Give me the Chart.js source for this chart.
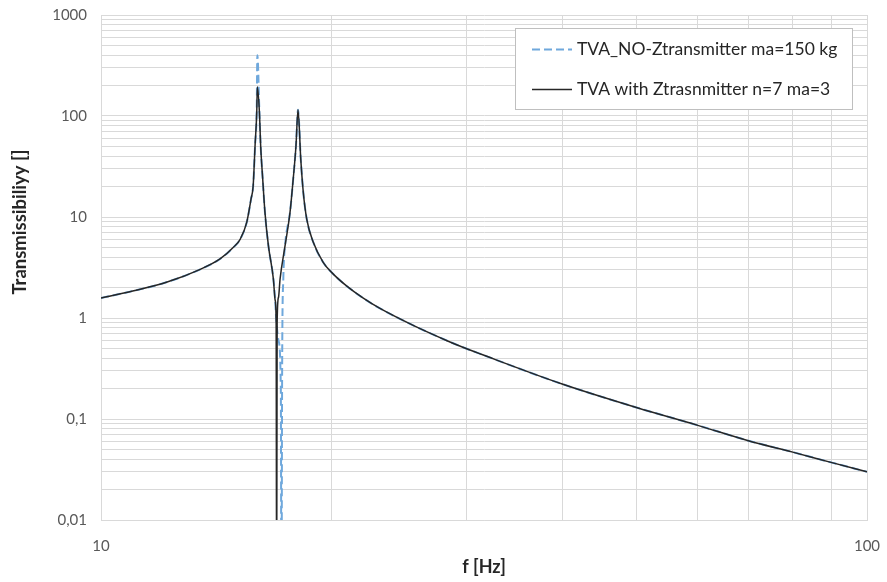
<!DOCTYPE html>
<html>
<head>
<meta charset="utf-8">
<script src="https://cdn.jsdelivr.net/npm/chart.js@4/dist/chart.umd.min.js"></script>
<style>
  html, body { margin: 0; padding: 0; background: #ffffff; }
  #wrap { position: relative; width: 887px; height: 582px; }
</style>
</head>
<body>
<div id="wrap"><canvas id="c" width="887" height="582"></canvas></div>
<script>
// ---- data ----
const seriesNames = ['TVA_NO-Ztransmitter ma=150 kg', 'TVA with Ztrasnmitter n=7 ma=3'];

const freqNoZ = [10, 11, 12.2, 13.5, 14.3, 14.9, 15.2, 15.5, 15.7, 15.8, 15.89, 15.97, 16.0, 16.1, 16.16, 16.26, 16.37, 16.54, 16.79, 16.88, 16.93, 17.05, 17.17, 17.2, 17.24, 17.3, 17.39, 17.65, 17.82, 17.97, 18.08, 18.23, 18.37, 18.56, 18.93, 19.5, 20, 20.9, 22, 23.1, 25.6, 28.3, 29.4, 31.3, 40, 50, 60, 70, 80, 90, 100];
const transNoZ = [1.58, 1.85, 2.27, 3.05, 3.84, 5.05, 6.05, 8.9, 15.1, 20.4, 50.8, 120, 400, 108, 50.8, 23.7, 11.1, 5.2, 2.43, 1.5, 1.0, 0.6, 0.2, 0.001, 0.4, 2.5, 5.2, 11.1, 23.7, 50.8, 115, 37.5, 17.5, 9.55, 5.62, 3.56, 2.83, 2.09, 1.57, 1.25, 0.84, 0.596, 0.528, 0.44, 0.222, 0.13, 0.087, 0.061, 0.047, 0.037, 0.030];

const freqWithZ = [10, 11, 12.2, 13.5, 14.3, 14.9, 15.2, 15.5, 15.7, 15.8, 15.89, 15.97, 16.0, 16.1, 16.16, 16.26, 16.37, 16.54, 16.79, 16.88, 16.93, 16.955, 16.98, 17.05, 17.13, 17.39, 17.65, 17.82, 17.97, 18.08, 18.23, 18.37, 18.56, 18.93, 19.5, 20, 20.9, 22, 23.1, 25.6, 28.3, 29.4, 31.3, 40, 50, 60, 70, 80, 90, 100];
const transWithZ = [1.58, 1.85, 2.27, 3.05, 3.84, 5.05, 6.05, 8.9, 15.1, 20.4, 50.8, 108, 195, 108, 50.8, 23.7, 11.1, 5.2, 2.43, 1.5, 0.9, 0.001, 0.9, 1.6, 2.43, 5.2, 11.1, 23.7, 50.8, 115, 37.5, 17.5, 9.55, 5.62, 3.56, 2.83, 2.09, 1.57, 1.25, 0.84, 0.596, 0.528, 0.44, 0.222, 0.13, 0.087, 0.061, 0.047, 0.037, 0.030];

const yDecades = [0.01, 0.1, 1, 10, 100, 1000];
const yTickLabels = ['0,01', '0,1', '1', '10', '100', '1000'];
const xTicks = [10, 20, 30, 40, 50, 60, 70, 80, 90, 100];
const xTickLabels = ['10', '', '', '', '', '', '', '', '', '100'];
const xTitle = 'f [Hz]';
const yTitle = 'Transmissibiliyy []';

// ---- build ----
const toXY = (fs, vs) => fs.map((f, i) => ({ x: f, y: vs[i] }));
const FONT = 'Lato, "Liberation Sans", sans-serif';

const yGridValues = [];
for (let d = 0; d < yDecades.length; d++) {
  const base = yDecades[d];
  yGridValues.push(base);
  if (d < yDecades.length - 1) {
    for (let k = 2; k <= 9; k++) yGridValues.push(+(base * k).toPrecision(3));
  }
}

const legendBox = {
  id: 'legendBox',
  afterDraw(chart) {
    const ctx = chart.ctx;
    const x0 = 515, y0 = 28, w = 337, h = 81;
    ctx.save();
    ctx.fillStyle = '#ffffff';
    ctx.fillRect(x0, y0, w, h);
    ctx.strokeStyle = '#bfbfbf';
    ctx.lineWidth = 1;
    ctx.strokeRect(x0 + 0.5, y0 + 0.5, w, h);
    const rows = [49.5, 89.5];
    chart.data.datasets.forEach((ds, i) => {
      const y = rows[i];
      ctx.beginPath();
      ctx.strokeStyle = ds.borderColor;
      ctx.lineWidth = ds.borderWidth;
      ctx.setLineDash(ds.borderDash || []);
      ctx.moveTo(532, y);
      ctx.lineTo(572, y);
      ctx.stroke();
      ctx.setLineDash([]);
      ctx.fillStyle = '#262626';
      ctx.font = '17.5px ' + FONT;
      ctx.textBaseline = 'middle';
      ctx.textAlign = 'left';
      ctx.fillText(ds.label, 577, y);
    });
    ctx.restore();
  }
};

const yTitlePlugin = {
  id: 'yTitlePlugin',
  afterDraw(chart) {
    const ctx = chart.ctx;
    ctx.save();
    ctx.translate(20, 222);
    ctx.rotate(-Math.PI / 2);
    ctx.fillStyle = '#262626';
    ctx.font = 'bold 18.5px ' + FONT;
    ctx.textAlign = 'center';
    ctx.textBaseline = 'middle';
    ctx.fillText(yTitle, 0, 0);
    ctx.restore();
  }
};

new Chart(document.getElementById('c'), {
  type: 'line',
  data: {
    datasets: [
      {
        label: seriesNames[0],
        data: toXY(freqNoZ, transNoZ),
        borderColor: '#6fa8dc',
        borderWidth: 2,
        borderDash: [8, 4],
        pointRadius: 0,
        cubicInterpolationMode: 'monotone',
        fill: false,
        order: 2
      },
      {
        label: seriesNames[1],
        data: toXY(freqWithZ, transWithZ),
        borderColor: '#262626',
        borderWidth: 1.5,
        pointRadius: 0,
        cubicInterpolationMode: 'monotone',
        fill: false,
        order: 1
      }
    ]
  },
  options: {
    responsive: false,
    animation: false,
    events: [],
    layout: { padding: { left: 0, top: 15, right: 20, bottom: 0 } },
    plugins: {
      legend: { display: false },
      tooltip: { enabled: false }
    },
    scales: {
      x: {
        type: 'logarithmic',
        min: 10,
        max: 100,
        afterFit(scale) { scale.height = 62; scale.paddingLeft = 0; scale.paddingRight = 0; },
        afterBuildTicks(scale) { scale.ticks = xTicks.map(v => ({ value: v })); },
        grid: { color: '#d9d9d9', lineWidth: 1, drawTicks: false },
        border: { color: '#d9d9d9' },
        ticks: {
          autoSkip: false,
          maxRotation: 0,
          padding: 17,
          color: '#595959',
          font: { family: FONT, size: 15 },
          callback: (v) => { const i = xTicks.indexOf(v); return i >= 0 ? xTickLabels[i] : ''; }
        },
        title: {
          display: true,
          text: xTitle,
          color: '#262626',
          font: { family: FONT, size: 18, weight: 'bold' },
          padding: { top: 0, bottom: 4 }
        }
      },
      y: {
        type: 'logarithmic',
        min: 0.01,
        max: 1000,
        afterFit(scale) { scale.width = 101; scale.paddingTop = 0; scale.paddingBottom = 0; },
        afterBuildTicks(scale) { scale.ticks = yGridValues.map(v => ({ value: v })); },
        grid: { color: '#d9d9d9', lineWidth: 1, drawTicks: false },
        border: { color: '#d9d9d9' },
        ticks: {
          autoSkip: false,
          padding: 14,
          color: '#595959',
          font: { family: FONT, size: 15 },
          callback: (v) => {
            const i = yDecades.findIndex(d => Math.abs(d - v) / d < 1e-6);
            return i >= 0 ? yTickLabels[i] : '';
          }
        }
      }
    }
  },
  plugins: [legendBox, yTitlePlugin]
});
</script>
</body>
</html>
